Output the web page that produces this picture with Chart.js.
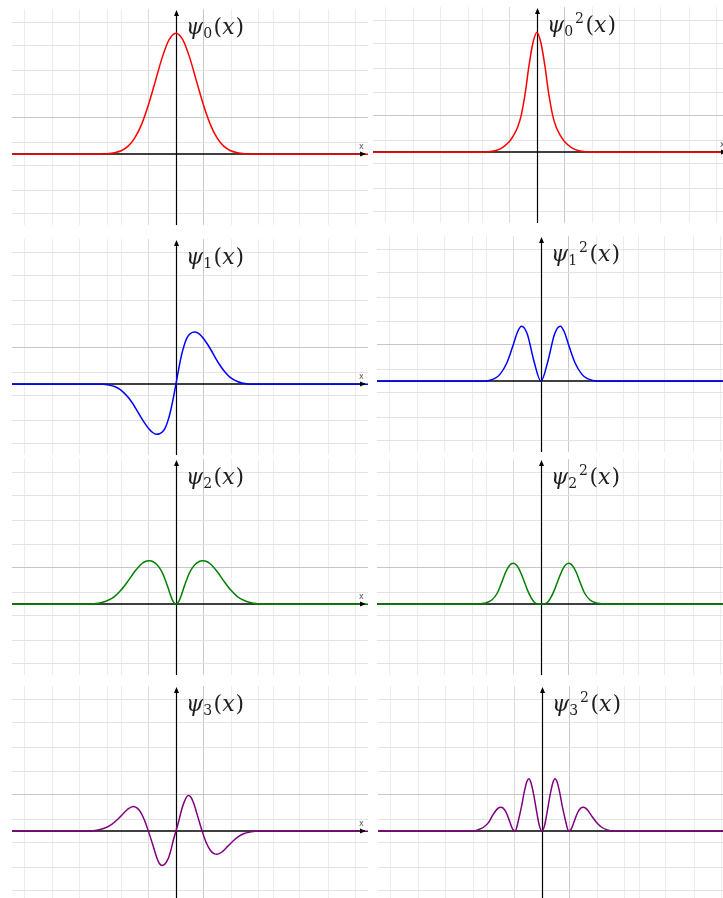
<!DOCTYPE html>
<html><head><meta charset="utf-8">
<script src="https://cdn.jsdelivr.net/npm/chart.js@4.4.1/dist/chart.umd.min.js"></script>
<style>
html,body{margin:0;padding:0;background:#fff;overflow:hidden;width:723px;height:898px;position:relative}
.p{position:absolute;width:356px;height:216px}
.p canvas{display:block}
</style></head><body>
<div class="p" id="d1"><canvas id="c1"></canvas></div>
<div class="p" id="d2"><canvas id="c2"></canvas></div>
<div class="p" id="d3"><canvas id="c3"></canvas></div>
<div class="p" id="d4"><canvas id="c4"></canvas></div>
<div class="p" id="d5"><canvas id="c5"></canvas></div>
<div class="p" id="d6"><canvas id="c6"></canvas></div>
<div class="p" id="d7"><canvas id="c7"></canvas></div>
<div class="p" id="d8"><canvas id="c8"></canvas></div>
<script>
// ---- grid tick positions (axis units) ----
const gridX = [-5.53, -4.52, -3.52, -2.52, -1.99, -1.01, 1.0, 2.04, 3.01, 3.56, 4.54, 5.58, 6.56];
const gridY = [-2.44, -1.49, -0.46, 0.5, 1.53, 2.48, 3.47, 4.5, 5.45];
const xRange = [-6, 7.03];
const yRange = [-2.93, 6.0];

// ---- series values ----
const psi0X = [-6, -3, -2.5, -2.25, -2, -1.75, -1.5, -1.25, -1, -0.75, -0.5, -0.25, 0, 0.25, 0.5, 0.75, 1, 1.25, 1.5, 1.75, 2, 2.25, 2.5, 3, 7.03];
const psi0Y = [0, 0, 0.02, 0.06, 0.14, 0.33, 0.68, 1.25, 2.06, 3.03, 4.0, 4.73, 5.0, 4.73, 4.0, 3.03, 2.06, 1.25, 0.68, 0.33, 0.14, 0.06, 0.02, 0, 0];

const psi0sqX = [-6, -1.95, -1.75, -1.5, -1.25, -1.0, -0.85, -0.7, -0.58, -0.42, -0.3, -0.15, 0, 0.15, 0.3, 0.42, 0.58, 0.7, 0.85, 1.0, 1.25, 1.5, 1.75, 1.95, 7.03];
const psi0sqY = [0, 0, 0.02, 0.07, 0.2, 0.45, 0.7, 1.05, 1.5, 2.5, 3.5, 4.5, 4.96, 4.5, 3.5, 2.5, 1.5, 1.05, 0.7, 0.45, 0.2, 0.07, 0.02, 0, 0];

const psi1X = [-6, -2.65, -2.45, -2.25, -2.05, -1.9, -1.75, -1.6, -1.45, -1.3, -1.15, -1.0, -0.85, -0.72, -0.6, -0.5, -0.4, -0.3, -0.2, -0.1, 0, 0.1, 0.2, 0.3, 0.4, 0.5, 0.6, 0.7, 0.85, 1.0, 1.15, 1.3, 1.45, 1.6, 1.75, 1.9, 2.05, 2.25, 2.45, 2.65, 7.03];
const psi1Y = [0, 0, -0.04, -0.1, -0.22, -0.36, -0.54, -0.77, -1.04, -1.33, -1.6, -1.83, -2.0, -2.07, -2.05, -1.98, -1.83, -1.54, -1.13, -0.6, 0, 0.62, 1.18, 1.6, 1.9, 2.06, 2.14, 2.16, 2.08, 1.9, 1.66, 1.38, 1.08, 0.8, 0.56, 0.37, 0.23, 0.11, 0.04, 0, 0];

const psi1sqX = [-6, -2.1, -1.9, -1.7, -1.5, -1.25, -1, -0.85, -0.71, -0.5, -0.25, 0, 0.25, 0.5, 0.71, 0.85, 1, 1.25, 1.5, 1.7, 1.9, 2.1, 7.03];
const psi1sqY = [0, 0, 0.03, 0.1, 0.28, 0.75, 1.55, 2.05, 2.27, 1.95, 0.8, 0, 0.8, 1.95, 2.27, 2.05, 1.55, 0.75, 0.28, 0.1, 0.03, 0, 0];

const psi2X = [-6, -3.2, -3, -2.75, -2.5, -2.25, -2, -1.75, -1.5, -1.25, -1.1, -1, -0.9, -0.8, -0.7, -0.6, -0.5, -0.4, -0.3, -0.2, -0.1, 0, 0.1, 0.2, 0.3, 0.4, 0.5, 0.6, 0.7, 0.8, 0.9, 1, 1.1, 1.25, 1.5, 1.75, 2, 2.25, 2.5, 2.75, 3, 3.2, 7.03];
const psi2Y = [0, 0, 0.02, 0.06, 0.15, 0.31, 0.59, 0.96, 1.36, 1.67, 1.77, 1.79, 1.78, 1.73, 1.64, 1.5, 1.3, 1.03, 0.72, 0.38, 0.1, 0, 0.1, 0.38, 0.72, 1.03, 1.3, 1.5, 1.64, 1.73, 1.78, 1.79, 1.77, 1.67, 1.36, 0.96, 0.59, 0.31, 0.15, 0.06, 0.02, 0, 0];

const psi2sqX = [-6, -2.4, -2.2, -2, -1.8, -1.6, -1.45, -1.3, -1.15, -1.02, -0.9, -0.8, -0.65, -0.5, -0.35, -0.2, 0, 0.2, 0.35, 0.5, 0.65, 0.8, 0.9, 1.02, 1.15, 1.3, 1.45, 1.6, 1.8, 2, 2.2, 2.4, 7.03];
const psi2sqY = [0, 0, 0.02, 0.06, 0.17, 0.45, 0.85, 1.3, 1.6, 1.69, 1.62, 1.45, 1.05, 0.6, 0.25, 0.04, 0, 0.04, 0.25, 0.6, 1.05, 1.45, 1.62, 1.69, 1.6, 1.3, 0.85, 0.45, 0.17, 0.06, 0.02, 0, 0];

const psi3X = [-6, -3.27, -2.9, -2.6, -2.35, -2.15, -1.95, -1.75, -1.56, -1.43, -1.3, -1.15, -1.01, -0.85, -0.7, -0.6, -0.5, -0.3, -0.2, -0.1, 0, 0.1, 0.2, 0.3, 0.45, 0.55, 0.65, 0.8, 0.96, 1.1, 1.25, 1.38, 1.51, 1.7, 1.9, 2.1, 2.3, 2.5, 2.7, 2.9, 7.03];
const psi3Y = [0, 0, 0.04, 0.13, 0.28, 0.47, 0.7, 0.92, 1.02, 0.96, 0.8, 0.45, 0, -0.55, -1.1, -1.35, -1.42, -1.18, -0.85, -0.4, 0, 0.4, 0.85, 1.2, 1.47, 1.4, 1.15, 0.6, 0, -0.45, -0.78, -0.92, -0.96, -0.85, -0.62, -0.4, -0.22, -0.1, -0.04, 0, 0];

const psi3sqX = [-6, -2.55, -2.35, -2.15, -1.95, -1.8, -1.65, -1.52, -1.42, -1.3, -1.18, -1.08, -1.03, -0.99, -0.95, -0.87, -0.75, -0.65, -0.55, -0.475, -0.4, -0.3, -0.2, -0.1, 0, 0.1, 0.2, 0.3, 0.4, 0.475, 0.55, 0.65, 0.75, 0.87, 0.95, 0.99, 1.03, 1.08, 1.18, 1.3, 1.42, 1.52, 1.65, 1.8, 2.0, 2.2, 2.4, 2.65, 7.03];
const psi3sqY = [0, 0, 0.05, 0.15, 0.36, 0.66, 0.9, 0.99, 0.95, 0.75, 0.4, 0.1, 0.03, 0, 0.05, 0.4, 1.0, 1.6, 2.05, 2.17, 2.0, 1.5, 0.85, 0.25, 0, 0.25, 0.85, 1.5, 2.0, 2.17, 2.05, 1.6, 1.0, 0.4, 0.05, 0, 0.03, 0.1, 0.4, 0.75, 0.95, 0.99, 0.9, 0.66, 0.36, 0.15, 0.05, 0, 0];

// ---- panel layout ----
const panels = [
  {id: 1, left: 12,  top: 9,   xs: psi0X,   ys: psi0Y,   color: '#ff0000', n: '0', sq: false},
  {id: 2, left: 373, top: 7,   xs: psi0sqX, ys: psi0sqY, color: '#ff0000', n: '0', sq: true},
  {id: 3, left: 12,  top: 239, xs: psi1X,   ys: psi1Y,   color: '#0000ff', n: '1', sq: false},
  {id: 4, left: 377, top: 236, xs: psi1sqX, ys: psi1sqY, color: '#0000ff', n: '1', sq: true},
  {id: 5, left: 12,  top: 459, xs: psi2X,   ys: psi2Y,   color: '#008000', n: '2', sq: false},
  {id: 6, left: 377, top: 459, xs: psi2sqX, ys: psi2sqY, color: '#008000', n: '2', sq: true},
  {id: 7, left: 12,  top: 686, xs: psi3X,   ys: psi3Y,   color: '#800080', n: '3', sq: false},
  {id: 8, left: 378, top: 686, xs: psi3sqX, ys: psi3sqY, color: '#800080', n: '3', sq: true}
];

const axisLinesPlugin = {
  id: 'axisLines',
  beforeDatasetsDraw(chart) {
    const {ctx, chartArea: a, scales: {x, y}} = chart;
    const x0 = Math.round(x.getPixelForValue(0)) + 0.5, y0 = Math.round(y.getPixelForValue(0));
    ctx.save();
    ctx.strokeStyle = '#000';
    ctx.lineWidth = 1.4;
    ctx.beginPath(); ctx.moveTo(a.left, y0); ctx.lineTo(a.right - 3, y0); ctx.stroke();
    ctx.lineWidth = 1.2;
    ctx.beginPath(); ctx.moveTo(x0, a.bottom); ctx.lineTo(x0, a.top + 3); ctx.stroke();
    ctx.restore();
  },
  afterDatasetsDraw(chart) {
    const {ctx, chartArea: a, scales: {x, y}} = chart;
    const x0 = Math.round(x.getPixelForValue(0)) + 0.5, y0 = Math.round(y.getPixelForValue(0));
    ctx.save();
    ctx.fillStyle = '#000';
    ctx.beginPath(); ctx.moveTo(x0, a.top + 1); ctx.lineTo(x0 - 2.5, a.top + 7); ctx.lineTo(x0 + 2.5, a.top + 7); ctx.closePath(); ctx.fill();
    ctx.beginPath(); ctx.moveTo(a.right - 2, y0); ctx.lineTo(a.right - 8, y0 - 2.5); ctx.lineTo(a.right - 8, y0 + 2.5); ctx.closePath(); ctx.fill();
    ctx.fillStyle = '#555';
    ctx.font = '8px "DejaVu Sans"';
    ctx.textBaseline = 'alphabetic';
    ctx.fillText('x', a.right - 9, y0 - 5);
    ctx.restore();
  }
};

const titlePlugin = {
  id: 'mathTitle',
  afterDraw(chart) {
    const o = chart.options.plugins.mathTitle;
    const {ctx, scales: {x, y}} = chart;
    let px = x.getPixelForValue(0) + 10;
    const base = y.getPixelForValue(yRange[1]) + 25;
    ctx.save();
    ctx.fillStyle = '#1e1e1e';
    ctx.textBaseline = 'alphabetic';
    ctx.font = 'italic 22px "DejaVu Serif"';
    ctx.fillText('ψ', px, base);
    px += ctx.measureText('ψ').width;
    ctx.font = '14px "DejaVu Serif"';
    ctx.fillText(o.n, px, base + 4);
    let w = ctx.measureText(o.n).width;
    if (o.sq) {
      ctx.fillText('2', px + w + 2, base - 9);
      w += ctx.measureText('2').width + 2;
    }
    px += w + 1.5;
    ctx.font = '22px "DejaVu Serif"';
    ctx.fillText('(', px, base); px += ctx.measureText('(').width;
    ctx.font = 'italic 22px "DejaVu Serif"';
    ctx.fillText('x', px, base); px += ctx.measureText('x').width + 1;
    ctx.font = '22px "DejaVu Serif"';
    ctx.fillText(')', px, base);
    ctx.restore();
  }
};

function gridColorX(c) {
  if (!c.tick) return '#ececec';
  const v = c.tick.value;
  if (Math.abs(v - 1.0) < 1e-6) return '#c9c9c9';
  if (Math.abs(v + 1.01) < 1e-6) return '#dcdcdc';
  return '#ececec';
}
function gridColorY(c) {
  if (!c.tick) return '#e3e3e3';
  return Math.abs(c.tick.value - 1.53) < 1e-6 ? '#c6c6c6' : '#e3e3e3';
}

panels.forEach(p => {
  const d = document.getElementById('d' + p.id);
  d.style.left = p.left + 'px';
  d.style.top = p.top + 'px';
  new Chart(document.getElementById('c' + p.id), {
    type: 'line',
    data: {
      datasets: [{
        data: p.xs.map((v, i) => ({x: v, y: p.ys[i]})),
        borderColor: p.color,
        borderWidth: 1.5,
        pointRadius: 0,
        fill: false,
        cubicInterpolationMode: 'monotone'
      }]
    },
    options: {
      responsive: true,
      maintainAspectRatio: false,
      animation: false,
      devicePixelRatio: 1,
      layout: {padding: 0},
      plugins: {legend: {display: false}, tooltip: {enabled: false}, mathTitle: {n: p.n, sq: p.sq}},
      scales: {
        x: {
          type: 'linear', min: xRange[0], max: xRange[1],
          afterBuildTicks: s => { s.ticks = gridX.map(v => ({value: v})); },
          ticks: {display: false},
          grid: {drawTicks: false, color: gridColorX, lineWidth: 1},
          border: {display: false}
        },
        y: {
          type: 'linear', min: yRange[0], max: yRange[1],
          afterBuildTicks: s => { s.ticks = gridY.map(v => ({value: v})); },
          ticks: {display: false},
          grid: {drawTicks: false, color: gridColorY, lineWidth: 1},
          border: {display: false}
        }
      }
    },
    plugins: [axisLinesPlugin, titlePlugin]
  });
});
</script>
</body></html>
